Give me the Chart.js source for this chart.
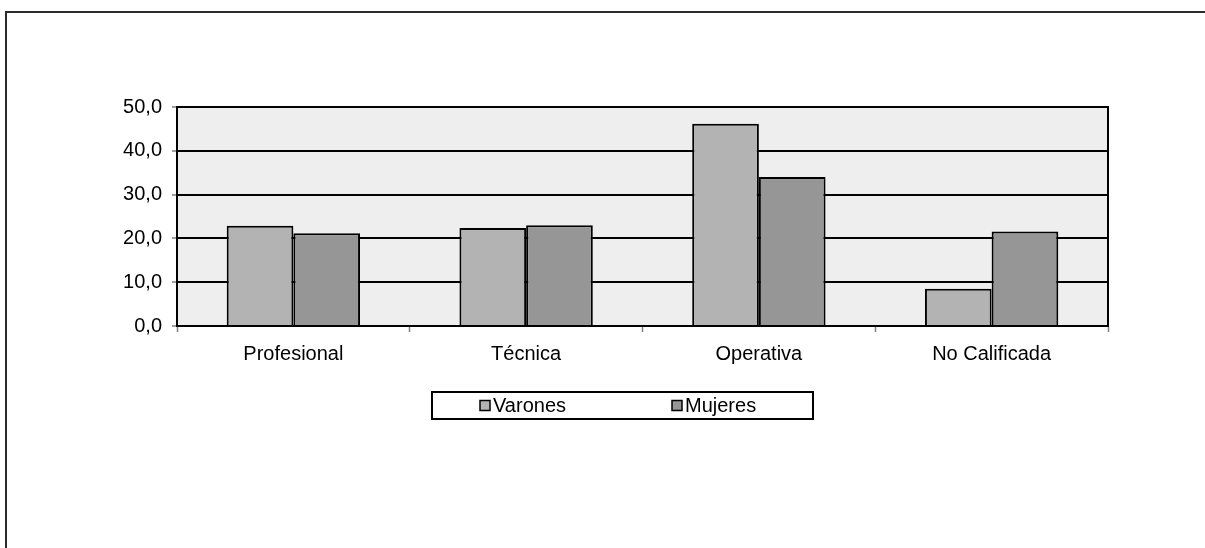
<!DOCTYPE html>
<html>
<head>
<meta charset="utf-8">
<script src="https://cdn.jsdelivr.net/npm/chart.js@4"></script>
<style>
  html, body { margin: 0; padding: 0; background: #ffffff; }
  #wrap { width: 1205px; height: 548px; position: relative; }
</style>
</head>
<body>
<div id="wrap"><canvas id="c" width="1205" height="548"></canvas></div>
<script>
const categories = ['Profesional', 'Técnica', 'Operativa', 'No Calificada'];
const seriesNames = ['Varones', 'Mujeres'];
const varones = [22.9, 22.4, 46.2, 8.5];
const mujeres = [21.2, 23.0, 34.0, 21.6];
const yTickValues = [0, 10, 20, 30, 40, 50];
const yTickLabels = ['0,0', '10,0', '20,0', '30,0', '40,0', '50,0'];

const FONT = "'Liberation Sans', Arial, sans-serif";
const FONT_SIZE = 20;

const framePlugin = {
  id: 'frameAndBg',
  beforeDraw(chart) {
    const {ctx, chartArea: a} = chart;
    ctx.save();
    ctx.fillStyle = '#ffffff';
    ctx.fillRect(0, 0, chart.width, chart.height);
    // outer frame (top and left lines)
    ctx.strokeStyle = '#2b2b2b';
    ctx.lineWidth = 2;
    ctx.beginPath();
    ctx.moveTo(6, chart.height);
    ctx.lineTo(6, 12);
    ctx.lineTo(chart.width, 12);
    ctx.stroke();
    // plot background
    ctx.fillStyle = '#eeeeee';
    ctx.fillRect(a.left, a.top, a.right - a.left, a.bottom - a.top);
    ctx.restore();
  },
  afterDraw(chart) {
    const {ctx, chartArea: a} = chart;
    ctx.save();
    ctx.strokeStyle = '#000';
    ctx.lineWidth = 2;
    ctx.strokeRect(a.left, a.top, a.right - a.left, a.bottom - a.top);

    // legend box
    const o = chart.options.plugins.boxLegend;
    ctx.lineWidth = 2;
    ctx.strokeStyle = '#000';
    ctx.fillStyle = '#fff';
    ctx.fillRect(o.left, o.top, o.width, o.height);
    ctx.strokeRect(o.left, o.top, o.width, o.height);
    ctx.font = FONT_SIZE + 'px ' + FONT;
    ctx.textBaseline = 'middle';
    ctx.textAlign = 'left';
    const cy = o.top + o.height / 2;
    chart.data.datasets.forEach((ds, i) => {
      const x = o.itemX[i];
      ctx.fillStyle = ds.backgroundColor;
      ctx.fillRect(x, cy - 5, 10, 10);
      ctx.lineWidth = 1.5;
      ctx.strokeStyle = '#000';
      ctx.strokeRect(x, cy - 5, 10, 10);
      ctx.fillStyle = '#000';
      ctx.fillText(ds.label, x + 13, cy + 1);
    });
    ctx.restore();
  }
};

new Chart(document.getElementById('c'), {
  type: 'bar',
  data: {
    labels: categories,
    datasets: [
      { label: seriesNames[0], data: varones, backgroundColor: '#b3b3b3', borderColor: '#000', borderWidth: 2, borderSkipped: 'bottom' },
      { label: seriesNames[1], data: mujeres, backgroundColor: '#969696', borderColor: '#000', borderWidth: 2, borderSkipped: 'bottom' }
    ]
  },
  options: {
    responsive: false,
    animation: false,
    devicePixelRatio: 1,
    layout: { padding: { top: 107, right: 97, bottom: 182, left: 117 } },
    datasets: { bar: { categoryPercentage: 0.573, barPercentage: 1.0 } },
    plugins: {
      legend: { display: false },
      tooltip: { enabled: false },
      boxLegend: { left: 432, top: 392, width: 381, height: 27, itemX: [480, 672] }
    },
    scales: {
      x: {
        afterFit(s) { s.height = 40; },
        grid: { display: true, offset: true, drawOnChartArea: false, drawTicks: true, tickLength: 6, tickColor: '#808080', tickWidth: 1.5 },
        border: { display: true, color: '#000', width: 2 },
        ticks: { color: '#000', padding: 10, font: { family: FONT, size: FONT_SIZE }, maxRotation: 0, autoSkip: false }
      },
      y: {
        min: 0, max: 50,
        afterFit(s) { s.width = 60; },
        afterBuildTicks(s) { s.ticks = yTickValues.map(v => ({ value: v })); },
        grid: { color: '#000', lineWidth: 2, drawTicks: true, tickLength: 5, tickColor: '#808080', tickWidth: 1.5 },
        border: { display: true, color: '#000', width: 2 },
        ticks: {
          color: '#000', padding: 10, font: { family: FONT, size: FONT_SIZE },
          callback(v) { const i = yTickValues.indexOf(v); return i >= 0 ? yTickLabels[i] : ''; }
        }
      }
    }
  },
  plugins: [framePlugin]
});
</script>
</body>
</html>
